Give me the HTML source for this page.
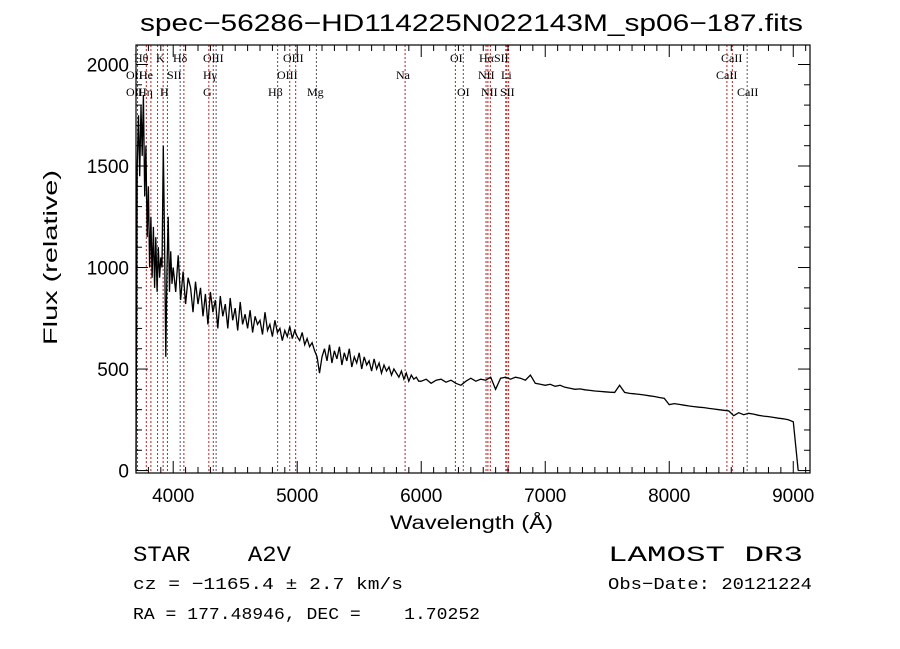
<!DOCTYPE html>
<html><head><meta charset="utf-8"><style>
body{margin:0;background:#fff;}
svg{display:block;}
text{white-space:pre;}
.t{font-family:"Liberation Sans",sans-serif;fill:#000;}
.m{font-family:"Liberation Mono",monospace;fill:#000;}
.s{font-family:"Liberation Serif",serif;fill:#000;font-size:12px;}
</style></head><body>
<svg id="chart" width="900" height="649" viewBox="0 0 900 649" xmlns="http://www.w3.org/2000/svg" xml:space="preserve">
<rect width="900" height="649" fill="#fff"/>
<text class="t" x="140" y="31" font-size="24" textLength="663" lengthAdjust="spacingAndGlyphs">spec−56286−HD114225N022143M_sp06−187.fits</text>
<g id="lines"></g>
<g id="labels"></g>
<g id="axes"></g>
<path id="spec" fill="none" stroke="#000" stroke-width="1.3"/>
<text class="t" x="390" y="529" font-size="19" textLength="163" lengthAdjust="spacingAndGlyphs">Wavelength (Å)</text>
<text class="t" x="57" y="345" font-size="19" textLength="175" lengthAdjust="spacingAndGlyphs" transform="rotate(-90 57 345)">Flux (relative)</text>
<text class="m" x="133" y="561" font-size="22" textLength="158" lengthAdjust="spacingAndGlyphs">STAR    A2V</text>
<text class="m" x="608" y="561" font-size="22" textLength="195" lengthAdjust="spacingAndGlyphs">LAMOST DR3</text>
<text class="m" x="133" y="589" font-size="17" textLength="270" lengthAdjust="spacingAndGlyphs">cz = −1165.4 ± 2.7 km/s</text>
<text class="m" x="608" y="589" font-size="17" textLength="204" lengthAdjust="spacingAndGlyphs">Obs−Date: 20121224</text>
<text class="m" x="133" y="619" font-size="17" textLength="347" lengthAdjust="spacingAndGlyphs">RA = 177.48946, DEC =    1.70252</text>
</svg>
<script>
const waveA=[3700,3710,3720,3730,3740,3750,3760,3770,3780,3790,3800,3810,3820,3830,3840,3850,3860,3870,3880,3890,3900,3910,3920,3930,3940,3950,3960,3970,3980,3990];
const fluxA=[0,1500,1750,1450,1800,1550,1850,1350,1600,1150,1400,1000,1250,950,1200,900,1150,880,1100,950,1050,1000,1600,1150,560,1000,1250,880,1080,920];
const waveB=[4000,4020,4040,4060,4080,4100,4120,4140,4160,4180,4200,4220,4240,4260,4280,4300,4320,4340,4360,4380,4400,4420,4440,4460,4480,4500,4520,4540,4560,4580,4600,4620,4640,4660,4680,4700,4720,4740,4760,4780,4800,4820,4840,4860,4880,4900,4920,4940,4960,4980,5000,5020,5040,5060,5080,5100,5120,5140,5160,5180,5200,5220,5240,5260,5280,5300,5320,5340,5360,5380,5400,5420,5440,5460,5480,5500,5520,5540,5560,5580,5600,5620,5640,5660,5680,5700,5720,5740,5760,5780,5800,5820,5840,5860,5880,5900,5920,5940,5960,5980];
const fluxB=[1000,880,1060,840,980,820,950,900,780,930,
820,900,760,870,720,880,780,840,700,860,
760,820,700,850,740,800,690,830,720,770,
700,790,680,760,720,740,670,780,690,720,
660,740,680,700,640,690,660,710,650,690,
660,640,680,620,650,610,630,590,560,480,
560,600,540,620,530,590,550,610,520,580,
540,600,510,560,530,580,500,560,520,540,
490,550,500,530,480,520,490,510,470,500,
480,460,490,450,480,440,470,450,460,440];
const waveC=[6000,6040,6080,6120,6160,6200,6240,6280,6320,6360,6400,6440,6480,6520,6560,6600,6640,6680,6720,6760,6800,6840,6880,6920,6960,7000,7040,7080,7120,7160,7200,7240,7280,7320,7360,7400,7440,7480,7520,7560,7600,7640,7680,7720,7760,7800,7840,7880,7920,7960,8000,8040,8080,8120,8160,8200,8240,8280,8320,8360,8400,8440,8480,8520,8560,8600,8640,8680,8720,8760,8800,8840,8880,8920,8960,9000,9040];
const fluxC=[440,450,430,445,450,435,445,430,420,440,
455,440,450,445,460,400,455,460,450,460,
455,445,470,430,425,420,425,415,420,410,
405,400,402,398,395,392,390,388,386,385,
420,385,380,378,375,372,368,365,360,356,
325,330,326,322,318,315,312,310,306,303,
300,297,294,270,285,275,282,278,272,268,
266,262,258,255,250,240,0];
const lineWave=[3727,3798,3835,3889,3934,3969,4072,4102,4304,4340,4363,4861,4959,5007,5175,5893,6300,6364,6548,6563,6583,6708,6717,6731,8498,8542,8662];
const lineGray=[0,0,0,0,0,0,1,0,0,0,1,0,0,0,1,0,0,1,0,0,0,0,0,0,0,0,1];
const xTicks=[4000,5000,6000,7000,8000,9000];
const yTicks=[0,500,1000,1500,2000];
const Z=1-1165.4/299792.458;
const X0=136,X1=810,Y0=473,Y1=45,WMIN=3700,WMAX=9135,FMIN=-12,FMAX=2096;
function sx(w){return X0+(w-WMIN)/(WMAX-WMIN)*(X1-X0);}
function sy(f){return Y0-(f-FMIN)/(FMAX-FMIN)*(Y0-Y1);}
const NS="http://www.w3.org/2000/svg";
function mk(tag,at,parent){const e=document.createElementNS(NS,tag);for(const k in at)e.setAttribute(k,at[k]);parent.appendChild(e);return e;}
const lg=document.getElementById('lines');
lineWave.forEach((w,i)=>{const x=sx(w*Z);
 const l=mk('line',{x1:x,x2:x,y1:Y1,y2:Y0,stroke:lineGray[i]?'#556':'#b22',"stroke-width":1,"stroke-dasharray":"2,2"},lg);
 
 });
const labs=[["Hθ",134,62],["K",156,62],["Hδ",173,62],["OIII",203,62],["OIII",283,62],["OI",450,62],["HαSII",479,62],["CaII",721,62],
["OII",126,79],["He",139,79],["SII",167,79],["Hγ",203,79],["OIII",277,79],["Na",396,79],["NII",478,79],["Li",501,79],["CaII",716,79],
["OII",126,96],["Hη",138,96],["H",160,96],["G",203,96],["Hβ",268,96],["Mg",307,96],["OI",457,96],["NII",481,96],["SII",500,96],["CaII",737,96]];
const lb=document.getElementById('labels');
labs.forEach(a=>{const t=mk('text',{x:a[1],y:a[2],class:'s'},lb);t.textContent=a[0];
 
 });
const ax=document.getElementById('axes');
const fr=mk('rect',{x:X0,y:Y1,width:X1-X0,height:Y0-Y1,fill:'none',stroke:'#000','stroke-width':1.2},ax);


for(let w=3700;w<=9100;w+=100){const x=sx(w);const L=(w%1000===0)?12:6;
 mk('line',{x1:x,x2:x,y1:Y0,y2:Y0-L,stroke:'#000'},ax);mk('line',{x1:x,x2:x,y1:Y1,y2:Y1+L,stroke:'#000'},ax);}
for(let f=0;f<=2000;f+=100){const y=sy(f);const L=(f%500===0)?12:6;
 mk('line',{x1:X0,x2:X0+L,y1:y,y2:y,stroke:'#000'},ax);mk('line',{x1:X1,x2:X1-L,y1:y,y2:y,stroke:'#000'},ax);}
xTicks.forEach(w=>{const t=mk('text',{x:sx(w),y:502,class:'t','font-size':19,'text-anchor':'middle'},ax);t.textContent=w;
 
 });
yTicks.forEach(f=>{const t=mk('text',{x:129,y:sy(f)+7,class:'t','font-size':19,'text-anchor':'end'},ax);t.textContent=f;
 
 });
const wave=waveA.concat(waveB,waveC), flux=fluxA.concat(fluxB,fluxC);
let d='';wave.forEach((w,i)=>{d+=(i?'L':'M')+sx(w).toFixed(1)+','+sy(flux[i]).toFixed(1);});
document.getElementById('spec').setAttribute('d',d);
</script>
</body></html>
